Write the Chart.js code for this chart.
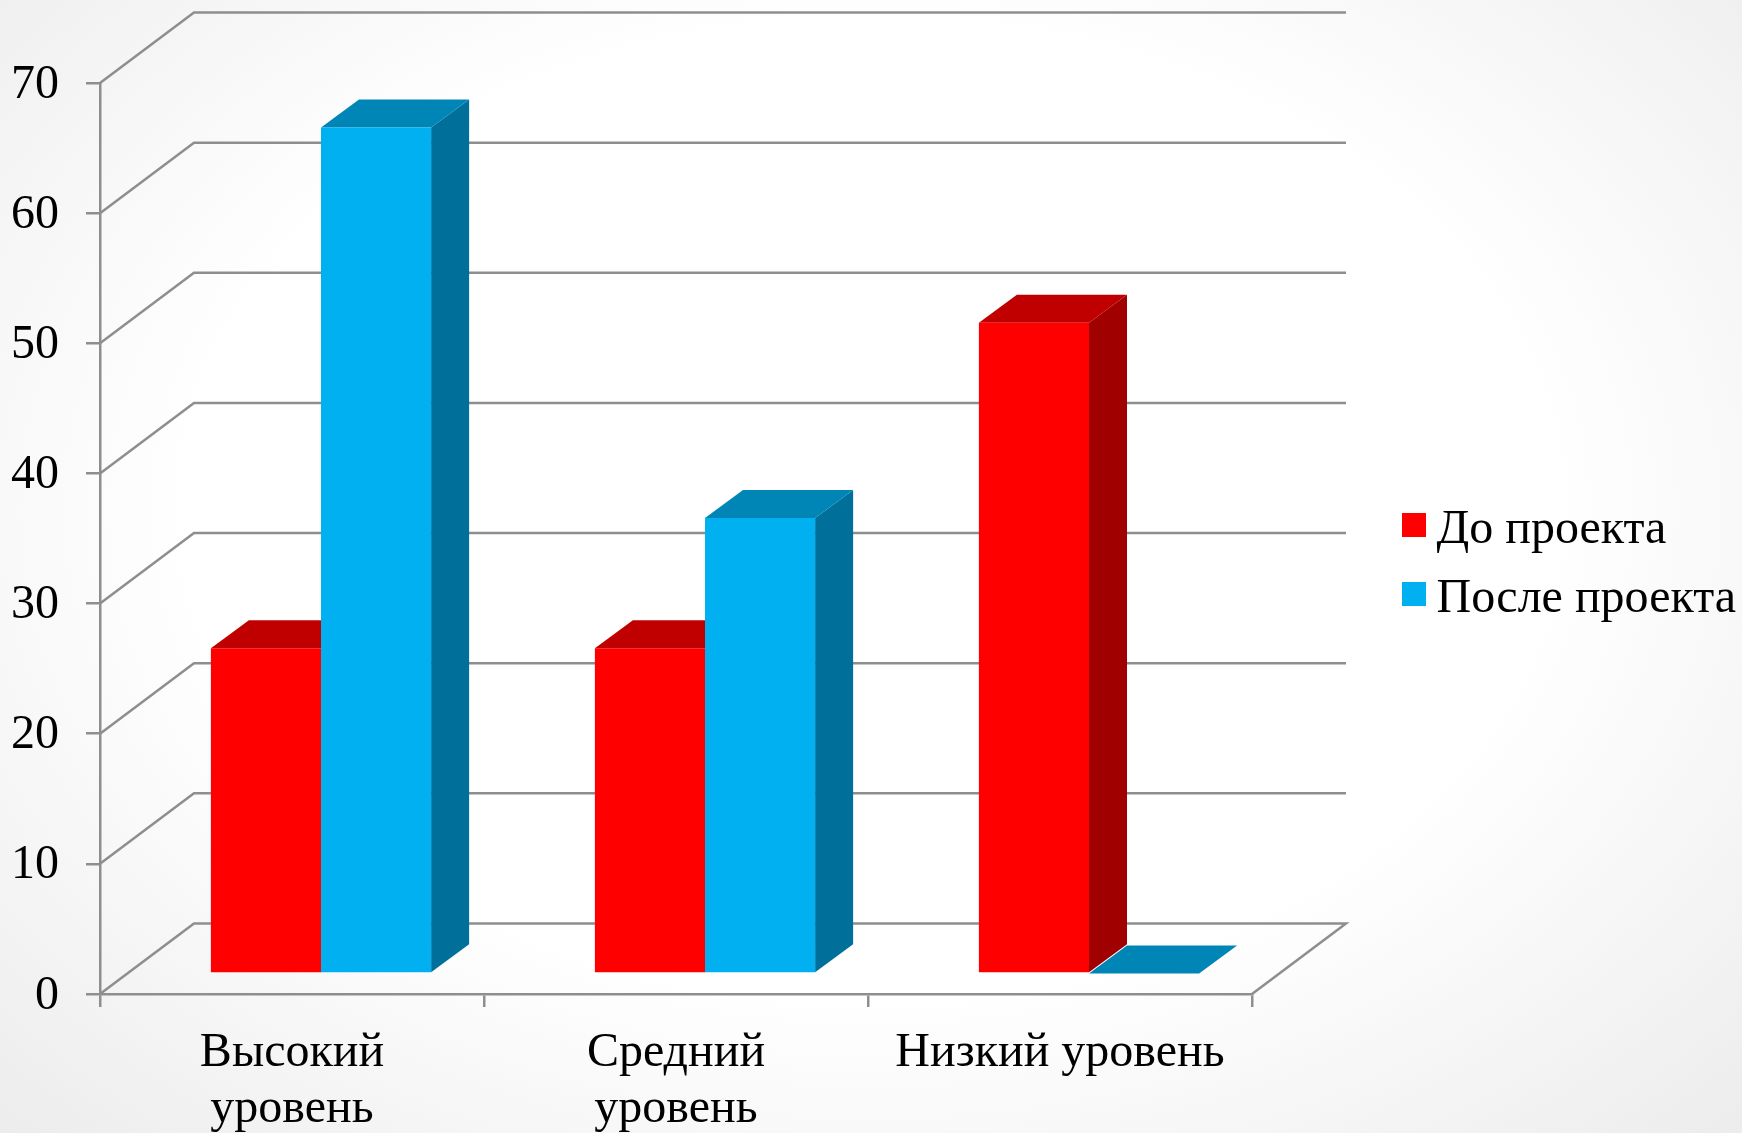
<!DOCTYPE html>
<html>
<head>
<meta charset="utf-8">
<title>Уровень до и после проекта</title>
<script src="https://cdn.jsdelivr.net/npm/chart.js@4"></script>
<style>
  html, body { margin: 0; padding: 0; }
  body {
    width: 1742px; height: 1133px; overflow: hidden;
    background: radial-gradient(ellipse at 50% 45%, #ffffff 55%, #ececec 100%);
  }
  canvas { display: block; }
</style>
</head>
<body>
<canvas id="barChart" width="1742" height="1133"></canvas>
<script>
// values
var categories = [["Высокий", "уровень"], ["Средний", "уровень"], "Низкий уровень"];
var beforeProject = [25, 25, 50];
var afterProject = [65, 35, 0];
var seriesNames = ["До проекта", "После проекта"];
var yTickValues = [0, 10, 20, 30, 40, 50, 60, 70];

var FONT = "'Liberation Serif', 'Times New Roman', serif";
var GRID = "#8e8e8e";
var faces = [
  { front: "#ff0000", top: "#c00000", side: "#a00000" },
  { front: "#00b0f0", top: "#0086b6", side: "#00709b" }
];
// fake 3D offsets
var WALL = { dx: 94, dy: -70.5 };   // depth of the floor and side wall
var SHIFT = { dx: 29, dy: -20.5 };  // bars stand a bit behind the front edge
var BAR = { dx: 38, dy: -28 };      // depth of one bar
var SWATCH = 24;

function poly(ctx, pts, color) {
  ctx.fillStyle = color;
  ctx.beginPath();
  pts.forEach(function(p, i) { i ? ctx.lineTo(p[0], p[1]) : ctx.moveTo(p[0], p[1]); });
  ctx.closePath();
  ctx.fill();
}

var fake3d = {
  id: "fake3d",
  afterLayout: function(chart) {
    // move the legend out of the plot
    var legend = chart.legend;
    var w = legend.width, h = legend.height;
    legend.left = 1400.5 - legend.options.labels.padding;
    legend.right = legend.left + w;
    legend.top = 485.5;
    legend.bottom = legend.top + h;
  },
  beforeDatasetsDraw: function(chart) {
    var ctx = chart.ctx, area = chart.chartArea, y = chart.scales.y;
    ctx.save();
    // side wall and back wall lines
    ctx.strokeStyle = GRID;
    ctx.lineWidth = 2.5;
    yTickValues.forEach(function(v) {
      var py = y.getPixelForValue(v);
      ctx.beginPath();
      ctx.moveTo(area.left, py);
      ctx.lineTo(area.left + WALL.dx, py + WALL.dy);
      ctx.lineTo(area.right + WALL.dx, py + WALL.dy);
      if (v === 0) ctx.lineTo(area.right, py);
      ctx.stroke();
    });
    // bar tops and sides
    ctx.translate(SHIFT.dx, SHIFT.dy);
    chart.data.datasets.forEach(function(ds, i) {
      chart.getDatasetMeta(i).data.forEach(function(bar) {
        var l = bar.x - bar.width / 2, r = bar.x + bar.width / 2;
        poly(ctx, [[r, bar.y], [r + BAR.dx, bar.y + BAR.dy], [r + BAR.dx, bar.base + BAR.dy], [r, bar.base]], faces[i].side);
        poly(ctx, [[l, bar.y], [l + BAR.dx, bar.y + BAR.dy], [r + BAR.dx, bar.y + BAR.dy], [r, bar.y]], faces[i].top);
      });
    });
    ctx.restore();
  },
  beforeDatasetDraw: function(chart) {
    chart.ctx.save();
    chart.ctx.translate(SHIFT.dx, SHIFT.dy);
  },
  afterDatasetDraw: function(chart) {
    chart.ctx.restore();
  },
  afterDraw: function(chart) {
    // legend swatches sit higher than the text, the legend itself can't do that
    var ctx = chart.ctx, legend = chart.legend, labels = legend.options.labels;
    var rowStep = labels.font.size + labels.padding;
    chart.data.datasets.forEach(function(ds, i) {
      ctx.fillStyle = ds.backgroundColor;
      ctx.fillRect(legend.left + labels.padding + 1.5, legend.top + labels.padding + 6.5 + i * rowStep, SWATCH, SWATCH);
    });
  }
};

var data = {
  labels: categories,
  datasets: [
    { label: seriesNames[0], data: beforeProject, backgroundColor: faces[0].front, clip: false },
    { label: seriesNames[1], data: afterProject, backgroundColor: faces[1].front, clip: false }
  ]
};

var config = {
  type: "bar",
  data: data,
  options: {
    responsive: false,
    animation: false,
    layout: { padding: { top: 83, right: 490, left: 0, bottom: 0 } },
    datasets: { bar: { categoryPercentage: 0.5735, barPercentage: 1 } },
    plugins: {
      tooltip: { enabled: false },
      legend: {
        position: "chartArea",
        align: "start",
        labels: {
          color: "#000",
          font: { family: FONT, size: 48 },
          padding: 21,
          boxWidth: 12,
          boxHeight: 12,
          generateLabels: function(chart) {
            return chart.data.datasets.map(function(ds, i) {
              return {
                text: ds.label,
                fillStyle: "rgba(0,0,0,0)",
                lineWidth: 0,
                fontColor: "#000",
                datasetIndex: i
              };
            });
          }
        }
      }
    },
    scales: {
      x: {
        afterFit: function(scale) { scale.height = 139; },
        grid: { offset: true, drawOnChartArea: false, color: GRID, lineWidth: 2.5, tickLength: 13 },
        border: { color: GRID, width: 2.5 },
        ticks: {
          color: "#000",
          padding: 19,
          maxRotation: 0,
          autoSkip: false,
          font: { family: FONT, size: 48, lineHeight: 1.16 }
        }
      },
      y: {
        min: 0,
        max: 70,
        afterFit: function(scale) { scale.width = 100; },
        grid: { drawOnChartArea: false, color: GRID, lineWidth: 2.5, tickLength: 14 },
        border: { color: GRID, width: 2.5 },
        ticks: {
          stepSize: 10,
          color: "#000",
          padding: 27,
          labelOffset: 2,
          font: { family: FONT, size: 48 }
        }
      }
    }
  },
  plugins: [fake3d]
};

var ctx = document.getElementById("barChart").getContext("2d");
new Chart(ctx, config);
</script>
</body>
</html>
